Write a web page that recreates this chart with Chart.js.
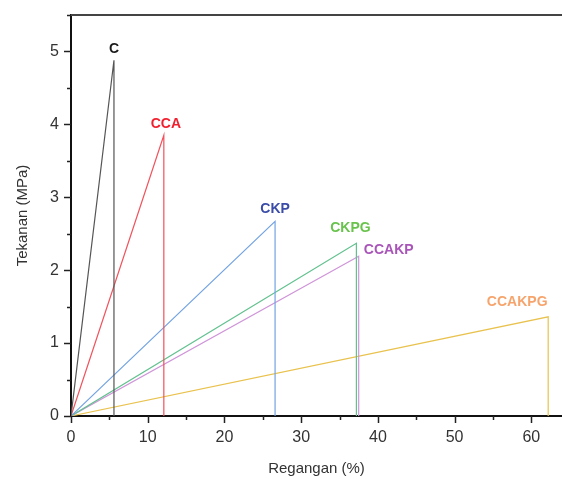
<!DOCTYPE html>
<html>
<head>
<meta charset="utf-8">
<script src="https://cdn.jsdelivr.net/npm/chart.js@4"></script>
<style>
  html, body { margin: 0; padding: 0; background: #fff; }
  #wrap { width: 562px; height: 479px; }
</style>
</head>
<body>
<div id="wrap"><canvas id="chart"></canvas></div>
<script>
// ── data ───────────────────────────────────────────────
const samples     = ['C', 'CCA', 'CKP', 'CKPG', 'CCAKP', 'CCAKPG'];
const breakStrain = [5.6, 12.1, 26.6, 37.2, 37.5, 62.2];   // Regangan (%)
const breakStress = [4.88, 3.85, 2.67, 2.37, 2.19, 1.36];  // Tekanan (MPa)
const xTicks = [0, 10, 20, 30, 40, 50, 60];
const yTicks = [0, 1, 2, 3, 4, 5];

const lineColors  = ['#555555', '#f2525c', '#72a3e2', '#62c18f', '#cf95d9', '#e9c24e'];
const labelColors = ['#1a1a1a', '#f0202e', '#3b4ca8', '#68c24c', '#a954b9', '#f6a46c'];
// label placement relative to the break point, px
const labelShift  = [[0, -11], [2, -11], [0, -12], [-6, -15], [30, -6], [-31, -15]];

const datasets = samples.map((name, i) => ({
  label: name,
  data: [
    { x: 0, y: 0 },
    { x: breakStrain[i], y: breakStress[i] },
    { x: breakStrain[i], y: 0 },
  ],
  borderColor: lineColors[i],
  borderWidth: 1.2,
  pointRadius: 0,
  fill: false,
  tension: 0,
}));

// outward major/minor tick marks, top frame line, sample labels
const decor = {
  id: 'decor',
  afterDraw(chart) {
    const { ctx, chartArea: a, scales: { x, y } } = chart;
    ctx.save();
    ctx.strokeStyle = '#222';
    ctx.lineWidth = 1.5;
    for (let v = 0; v <= 60; v += 5) {
      const px = Math.round(x.getPixelForValue(v)) + 0.5;
      const len = v % 10 === 0 ? 7 : 4;
      ctx.beginPath(); ctx.moveTo(px, a.bottom); ctx.lineTo(px, a.bottom + len); ctx.stroke();
    }
    for (let v = 0; v <= 5.5; v += 0.5) {
      const py = Math.round(y.getPixelForValue(v)) + 0.5;
      const len = v % 1 === 0 ? 7 : 4;
      ctx.beginPath(); ctx.moveTo(a.left, py); ctx.lineTo(a.left - len, py); ctx.stroke();
    }
    // top frame
    ctx.strokeStyle = '#444';
    ctx.lineWidth = 2;
    ctx.beginPath(); ctx.moveTo(a.left, a.top); ctx.lineTo(a.right, a.top); ctx.stroke();

    ctx.font = 'bold 14px "Liberation Sans", Arial, sans-serif';
    ctx.textAlign = 'center';
    ctx.textBaseline = 'middle';
    samples.forEach((name, i) => {
      ctx.fillStyle = labelColors[i];
      ctx.fillText(name,
        x.getPixelForValue(breakStrain[i]) + labelShift[i][0],
        y.getPixelForValue(breakStress[i]) + labelShift[i][1]);
    });
    ctx.restore();
  },
};

new Chart(document.getElementById('chart'), {
  type: 'line',
  data: { datasets },
  plugins: [decor],
  options: {
    responsive: true,
    maintainAspectRatio: false,
    animation: false,
    layout: { padding: { top: 15, right: 0, left: 0, bottom: 0 } },
    plugins: { legend: { display: false }, tooltip: { enabled: false } },
    scales: {
      x: {
        type: 'linear',
        min: 0, max: 64,
        afterFit: s => { s.height = 63; s.paddingLeft = 0; s.paddingRight = 0; },
        afterBuildTicks: s => { s.ticks = xTicks.map(v => ({ value: v })); },
        grid: { display: false, drawTicks: false },
        border: { display: true, color: '#111', width: 2 },
        ticks: { padding: 12, color: '#333', autoSkip: false, font: { family: '"Liberation Sans", Arial', size: 16 } },
        title: { display: true, text: 'Regangan (%)', color: '#333', padding: { top: 0, bottom: 1 },
                 font: { family: '"Liberation Sans", Arial', size: 15 } },
      },
      y: {
        min: 0, max: 5.5,
        afterFit: s => { s.width = 71; s.paddingTop = 0; s.paddingBottom = 0; },
        afterBuildTicks: s => { s.ticks = yTicks.map(v => ({ value: v })); },
        grid: { display: false, drawTicks: false },
        border: { display: true, color: '#111', width: 2 },
        ticks: { padding: 12, color: '#333', autoSkip: false, font: { family: '"Liberation Sans", Arial', size: 16 } },
        title: { display: true, text: 'Tekanan (MPa)', color: '#333', padding: { top: 14, bottom: 0 },
                 font: { family: '"Liberation Sans", Arial', size: 15 } },
      },
    },
  },
});
</script>
</body>
</html>
